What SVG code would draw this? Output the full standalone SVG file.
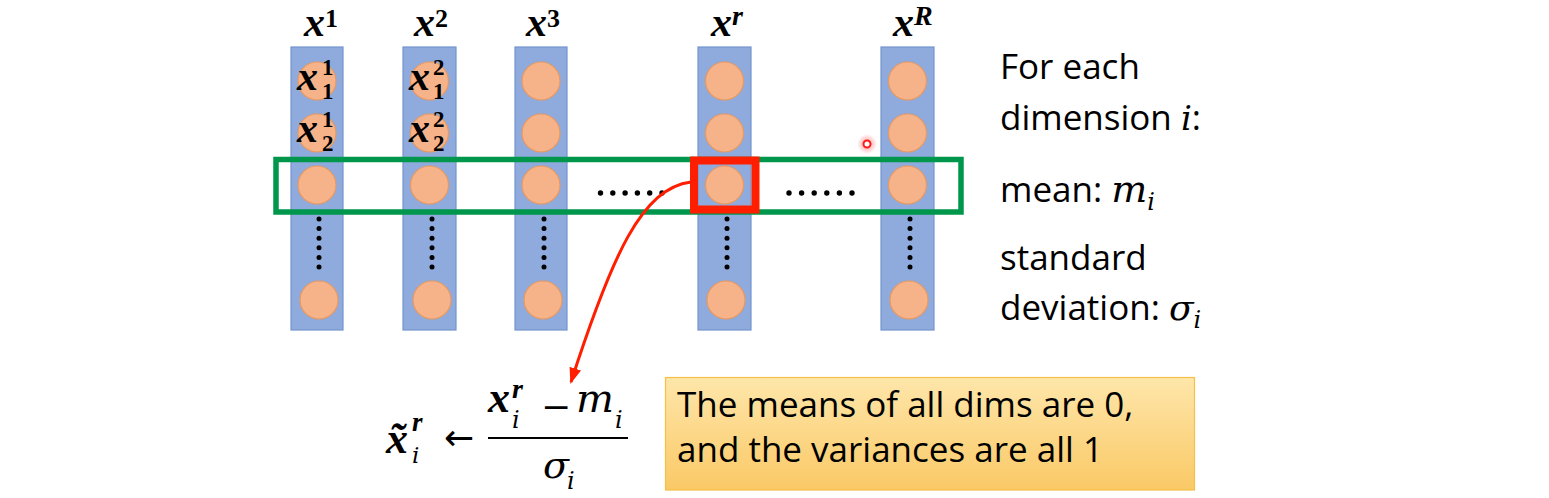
<svg xmlns="http://www.w3.org/2000/svg" width="1549" height="498" viewBox="0 0 1549 498">
<defs>
<style>
.col{fill:#8FAADC;stroke:#7294CE;stroke-width:1.2}
.nd{fill:#F6B38A;stroke:#E9995F;stroke-width:1.2}
.dot{fill:#000}
.mb{font-family:"Liberation Serif","Times New Roman",serif;font-weight:bold;font-style:italic;fill:#000}
.dg{font-weight:bold;font-style:normal;font-size:23px}
.mi{font-family:"DejaVu Serif",serif;font-style:italic;font-weight:normal;fill:#000}
.txt{font-family:"Open Sans",Lato,sans-serif;font-size:35px;fill:#000}
</style>
<linearGradient id="yb" x1="0" y1="0" x2="0" y2="1">
<stop offset="0" stop-color="#FEE6AA"/>
<stop offset="1" stop-color="#FAC966"/>
</linearGradient>
<radialGradient id="glow">
<stop offset="0" stop-color="#FF2020" stop-opacity="0.5"/>
<stop offset="1" stop-color="#FF2020" stop-opacity="0"/>
</radialGradient>
<marker id="ah" viewBox="0 0 16 12" refX="14" refY="6" markerWidth="16" markerHeight="12" markerUnits="userSpaceOnUse" orient="auto">
<path d="M0,0 L16,6 L0,12 Z" fill="#FF1E00"/>
</marker>
</defs>
<rect width="1549" height="498" fill="#FFFFFF"/>

<!-- column labels -->
<g id="labels">
<text class="mb" x="304" y="36" font-size="42">x<tspan font-size="26" dy="-9" font-style="normal">1</tspan></text>
<text class="mb" x="414" y="36" font-size="42">x<tspan font-size="26" dy="-9" font-style="normal">2</tspan></text>
<text class="mb" x="526" y="36" font-size="42">x<tspan font-size="26" dy="-9" font-style="normal">3</tspan></text>
<text class="mb" x="711" y="36" font-size="42">x<tspan font-size="28" dy="-11">r</tspan></text>
<text class="mb" x="893" y="36" font-size="42">x<tspan font-size="28" dy="-11">R</tspan></text>
</g>

<g id="col-1">
<rect class="col" x="291" y="47" width="52" height="283"/>
<circle class="nd" cx="317" cy="81" r="19"/>
<circle class="nd" cx="317" cy="133" r="19"/>
<circle class="nd" cx="317" cy="185" r="19"/>
<circle class="dot" cx="319" cy="219" r="2.5"/><circle class="dot" cx="319" cy="228.6" r="2.5"/><circle class="dot" cx="319" cy="238.2" r="2.5"/><circle class="dot" cx="319" cy="247.8" r="2.5"/><circle class="dot" cx="319" cy="257.4" r="2.5"/><circle class="dot" cx="319" cy="267" r="2.5"/>
<circle class="nd" cx="319" cy="300" r="19"/>
<text class="mb" x="297" y="90" font-size="42">x<tspan class="dg" x="322" y="75">1</tspan><tspan class="dg" x="322" y="99">1</tspan></text>
<text class="mb" x="297" y="142" font-size="42">x<tspan class="dg" x="322" y="127">1</tspan><tspan class="dg" x="322" y="151">2</tspan></text>
</g>

<g id="col-2">
<rect class="col" x="403" y="47" width="53" height="283"/>
<circle class="nd" cx="429.5" cy="81" r="19"/>
<circle class="nd" cx="429.5" cy="133" r="19"/>
<circle class="nd" cx="429.5" cy="185" r="19"/>
<circle class="dot" cx="432" cy="219" r="2.5"/><circle class="dot" cx="432" cy="228.6" r="2.5"/><circle class="dot" cx="432" cy="238.2" r="2.5"/><circle class="dot" cx="432" cy="247.8" r="2.5"/><circle class="dot" cx="432" cy="257.4" r="2.5"/><circle class="dot" cx="432" cy="267" r="2.5"/>
<circle class="nd" cx="432" cy="300" r="19"/>
<text class="mb" x="409" y="90" font-size="42">x<tspan class="dg" x="433" y="75">2</tspan><tspan class="dg" x="433" y="99">1</tspan></text>
<text class="mb" x="409" y="142" font-size="42">x<tspan class="dg" x="433" y="127">2</tspan><tspan class="dg" x="433" y="151">2</tspan></text>
</g>

<g id="col-3">
<rect class="col" x="515" y="47" width="52" height="283"/>
<circle class="nd" cx="541" cy="81" r="19"/>
<circle class="nd" cx="541" cy="133" r="19"/>
<circle class="nd" cx="541" cy="185" r="19"/>
<circle class="dot" cx="544" cy="219" r="2.5"/><circle class="dot" cx="544" cy="228.6" r="2.5"/><circle class="dot" cx="544" cy="238.2" r="2.5"/><circle class="dot" cx="544" cy="247.8" r="2.5"/><circle class="dot" cx="544" cy="257.4" r="2.5"/><circle class="dot" cx="544" cy="267" r="2.5"/>
<circle class="nd" cx="543" cy="300" r="19"/>
</g>

<g id="col-r">
<rect class="col" x="698" y="47" width="53" height="283"/>
<circle class="nd" cx="724.5" cy="81" r="19"/>
<circle class="nd" cx="724.5" cy="133" r="19"/>
<circle class="nd" cx="724.5" cy="185" r="19"/>
<circle class="dot" cx="727" cy="219" r="2.5"/><circle class="dot" cx="727" cy="228.6" r="2.5"/><circle class="dot" cx="727" cy="238.2" r="2.5"/><circle class="dot" cx="727" cy="247.8" r="2.5"/><circle class="dot" cx="727" cy="257.4" r="2.5"/><circle class="dot" cx="727" cy="267" r="2.5"/>
<circle class="nd" cx="726" cy="300" r="19"/>
</g>

<g id="col-R">
<rect class="col" x="881" y="47" width="53" height="283"/>
<circle class="nd" cx="907.5" cy="81" r="19"/>
<circle class="nd" cx="907.5" cy="133" r="19"/>
<circle class="nd" cx="907.5" cy="185" r="19"/>
<circle class="dot" cx="910" cy="219" r="2.5"/><circle class="dot" cx="910" cy="228.6" r="2.5"/><circle class="dot" cx="910" cy="238.2" r="2.5"/><circle class="dot" cx="910" cy="247.8" r="2.5"/><circle class="dot" cx="910" cy="257.4" r="2.5"/><circle class="dot" cx="910" cy="267" r="2.5"/>
<circle class="nd" cx="909" cy="300" r="19"/>
</g>

<g id="row-i">
<rect x="276" y="159.5" width="685" height="52.5" fill="none" stroke="#00964B" stroke-width="5.5"/>
<circle class="dot" cx="600.5" cy="193" r="2.7"/><circle class="dot" cx="612.8" cy="193" r="2.7"/><circle class="dot" cx="625.1" cy="193" r="2.7"/><circle class="dot" cx="637.4" cy="193" r="2.7"/><circle class="dot" cx="649.7" cy="193" r="2.7"/><circle class="dot" cx="662" cy="193" r="2.7"/>
<circle class="dot" cx="789" cy="193" r="2.7"/><circle class="dot" cx="801.6" cy="193" r="2.7"/><circle class="dot" cx="814.2" cy="193" r="2.7"/><circle class="dot" cx="826.8" cy="193" r="2.7"/><circle class="dot" cx="839.4" cy="193" r="2.7"/><circle class="dot" cx="852" cy="193" r="2.7"/>
</g>

<g id="selected">
<rect x="694" y="160.5" width="61.5" height="49" fill="none" stroke="#FF1E00" stroke-width="8"/>
</g>

<g id="pointer">
<circle cx="867" cy="144" r="10" fill="url(#glow)"/>
<circle cx="867" cy="144" r="3.5" fill="#FFFFFF" stroke="#FF1A1A" stroke-width="2"/>
</g>

<g id="connectors">
<path d="M 691 182 C 642 188, 612 255, 571 382" fill="none" stroke="#FF1E00" stroke-width="3" marker-end="url(#ah)"/>
</g>

<g id="formula">
<text class="mb" x="386" y="453" font-size="44">x&#x0303;<tspan x="412" y="431" font-size="27">r</tspan><tspan class="mi" x="412" y="463" font-size="23">i</tspan></text>
<text x="444" y="450" font-family="DejaVu Sans, sans-serif" font-size="36">←</text>
<text class="mb" x="488" y="412" font-size="44">x<tspan x="512" y="398" font-size="28">r</tspan><tspan class="mi" x="512" y="428" font-size="24">i</tspan><tspan class="mi" x="541" y="419" font-size="36" font-style="normal">−</tspan><tspan class="mi" x="576" y="412" font-size="40">m</tspan><tspan class="mi" x="615" y="428" font-size="24">i</tspan></text>
<line x1="488" y1="438" x2="628" y2="438" stroke="#000" stroke-width="2.2"/>
<text class="mi" x="543" y="478" font-size="38">σ<tspan x="567" y="489" font-size="24">i</tspan></text>
</g>

<g id="stats">
<text class="txt" x="1000" y="79">For each</text>
<text class="txt" x="1000" y="130">dimension <tspan class="mi" font-size="34">i</tspan>:</text>
<text class="txt" x="1000" y="202">mean: <tspan class="mi" font-size="38">m</tspan><tspan class="mi" font-size="24" dy="8">i</tspan></text>
<text class="txt" x="1000" y="270">standard</text>
<text class="txt" x="1000" y="320">deviation: <tspan class="mi" font-size="36">σ</tspan><tspan class="mi" font-size="24" dy="8">i</tspan></text>
</g>

<g id="note">
<rect x="665.5" y="377.5" width="529" height="112.5" fill="url(#yb)" stroke="#F5C04A" stroke-width="1.2"/>
<text class="txt" x="677" y="417">The means of all dims are 0,</text>
<text class="txt" x="677" y="462">and the variances are all 1</text>
</g>
</svg>
